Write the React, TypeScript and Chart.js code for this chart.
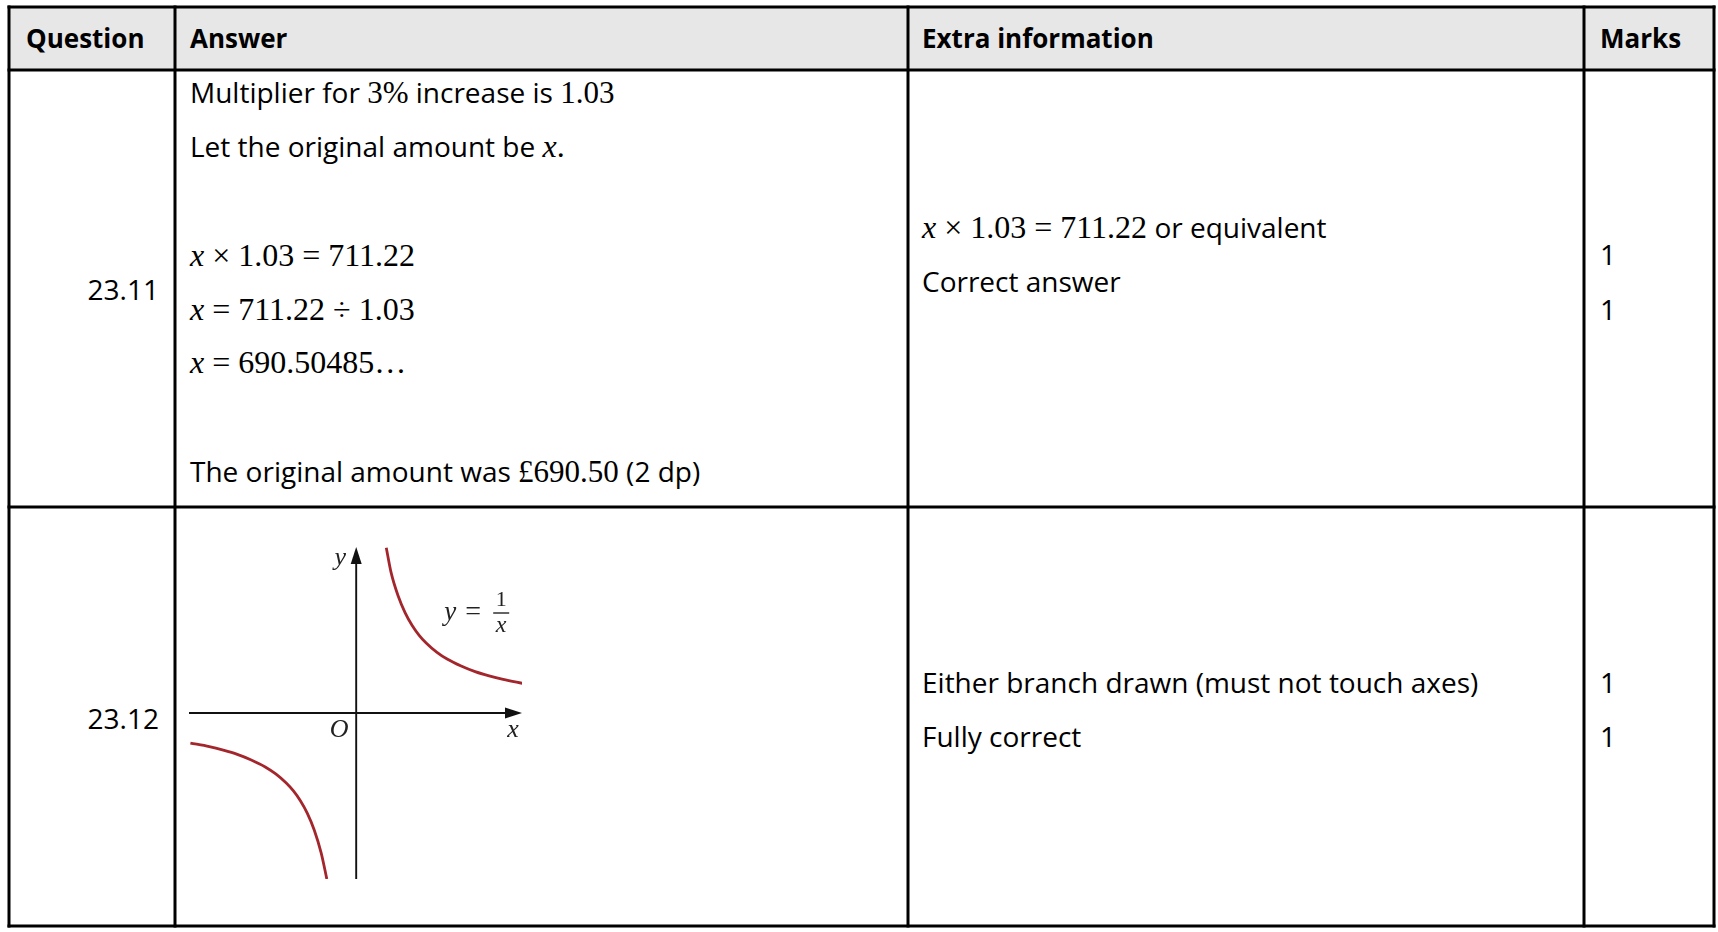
import React, { useEffect, useRef } from "react";
import { Chart, registerables } from "chart.js";

Chart.register(...registerables);

// Curve y = 1/x
const upperX = [0.43, 0.5, 0.6, 0.7, 0.8, 0.9, 1.0, 1.15, 1.3, 1.5, 1.7, 1.9, 2.1, 2.39];
const upperY = [2.36, 2.0, 1.67, 1.43, 1.25, 1.11, 1.0, 0.87, 0.77, 0.67, 0.59, 0.53, 0.48, 0.42];
const lowerX = [-2.37, -2.1, -1.9, -1.7, -1.5, -1.3, -1.15, -1.0, -0.9, -0.8, -0.7, -0.6, -0.5, -0.42];
const lowerY = [-0.43, -0.48, -0.53, -0.59, -0.67, -0.77, -0.87, -1.0, -1.11, -1.25, -1.43, -1.67, -2.0, -2.37];
const xLimits = [-2.39, 2.37];
const yLimits = [-2.37, 2.37];

const headers = ["Question", "Answer", "Extra information", "Marks"];
const questions = ["23.11", "23.12"];
const marks = ["1", "1", "1", "1"];

const SANS = "'Open Sans', Lato, sans-serif";
const SERIF = "'Liberation Serif', 'DejaVu Serif', serif";
const CURVE = "#a3262c";

function Graph() {
  const ref = useRef<HTMLCanvasElement | null>(null);
  useEffect(() => {
    if (!ref.current) return;
    const axesPlugin = {
      id: "axesPlugin",
      beforeDatasetsDraw(chart: any) {
        const { ctx, scales } = chart;
        const xs = scales.x, ys = scales.y;
        const x0 = xs.getPixelForValue(0);
        const y0 = ys.getPixelForValue(0);
        const left = xs.getPixelForValue(xs.min);
        const right = xs.getPixelForValue(xs.max);
        const top = ys.getPixelForValue(ys.max);
        const bottom = ys.getPixelForValue(ys.min);
        ctx.save();
        ctx.strokeStyle = "#111";
        ctx.fillStyle = "#111";
        ctx.lineWidth = 1.9;
        ctx.beginPath();
        ctx.moveTo(left, y0);
        ctx.lineTo(right - 10, y0);
        ctx.moveTo(x0, bottom);
        ctx.lineTo(x0, top + 10);
        ctx.stroke();
        ctx.beginPath();
        ctx.moveTo(right, y0);
        ctx.lineTo(right - 17, y0 - 5.5);
        ctx.lineTo(right - 17, y0 + 5.5);
        ctx.closePath();
        ctx.fill();
        ctx.beginPath();
        ctx.moveTo(x0, top);
        ctx.lineTo(x0 - 5.5, top + 17);
        ctx.lineTo(x0 + 5.5, top + 17);
        ctx.closePath();
        ctx.fill();

        ctx.fillStyle = "#222";
        ctx.textAlign = "center";
        ctx.textBaseline = "middle";
        ctx.font = `italic 26px ${SERIF}`;
        ctx.fillText("y", x0 - 16, top + 11);
        ctx.fillText("O", x0 - 17, y0 + 17);
        ctx.fillText("x", right - 9, y0 + 17);
        // equation label y = 1/x
        ctx.font = `italic 27px ${SERIF}`;
        ctx.fillText("y", x0 + 94, y0 - 100);
        ctx.font = `28px ${SERIF}`;
        ctx.fillText("=", x0 + 117, y0 - 100);
        ctx.font = `22px ${SERIF}`;
        ctx.fillText("1", x0 + 145, y0 - 113);
        ctx.font = `italic 24px ${SERIF}`;
        ctx.fillText("x", x0 + 145, y0 - 87);
        ctx.lineWidth = 1.4;
        ctx.strokeStyle = "#222";
        ctx.beginPath();
        ctx.moveTo(x0 + 137, y0 - 100);
        ctx.lineTo(x0 + 153, y0 - 100);
        ctx.stroke();
        ctx.restore();
      },
    };
    const chart = new Chart(ref.current, {
      type: "scatter",
      data: {
        datasets: [
          {
            data: upperX.map((x, i) => ({ x, y: upperY[i] })),
            showLine: true,
            borderColor: CURVE,
            borderWidth: 2.8,
            pointRadius: 0,
            cubicInterpolationMode: "monotone",
          },
          {
            data: lowerX.map((x, i) => ({ x, y: lowerY[i] })),
            showLine: true,
            borderColor: CURVE,
            borderWidth: 2.8,
            pointRadius: 0,
            cubicInterpolationMode: "monotone",
          },
        ],
      },
      options: {
        animation: false,
        responsive: false,
        events: [],
        layout: { padding: 10 },
        plugins: { legend: { display: false }, tooltip: { enabled: false } },
        scales: {
          x: { type: "linear", min: xLimits[0], max: xLimits[1], display: false },
          y: { type: "linear", min: yLimits[0], max: yLimits[1], display: false },
        },
      },
      plugins: [axesPlugin],
    } as any);
    return () => chart.destroy();
  }, []);
  return (
    <canvas
      ref={ref}
      width={353}
      height={352}
      style={{ position: "absolute", left: 179, top: 537, width: 353, height: 352 }}
    />
  );
}

const M = ({ children }: { children: React.ReactNode }) => (
  <tspan fontFamily={SERIF} fontSize={32}>{children}</tspan>
);
const I = ({ children }: { children: React.ReactNode }) => (
  <tspan fontFamily={SERIF} fontSize={32} fontStyle="italic">{children}</tspan>
);
const MI = ({ children }: { children: React.ReactNode }) => (
  <tspan fontFamily={SERIF} fontSize={31}>{children}</tspan>
);

export default function App() {
  const vLines = [9, 175, 908, 1584, 1714];
  const hLines = [7, 70, 507, 926];
  const ts = { fontFamily: SANS, fontSize: 28, fill: "#000" } as any;
  return (
    <div style={{ position: "absolute", left: 0, top: 0, width: 1718, height: 932, background: "#fff" }}>
      <svg width={1718} height={932} style={{ position: "absolute", left: 0, top: 0 }}>
        <rect x={9} y={7} width={1705} height={63} fill="#e7e7e7" />
        {hLines.map((y) => (
          <line key={"h" + y} x1={7.5} x2={1715.5} y1={y} y2={y} stroke="#000" strokeWidth={3} />
        ))}
        {vLines.map((x) => (
          <line key={"v" + x} x1={x} x2={x} y1={5.5} y2={927.5} stroke="#000" strokeWidth={3} />
        ))}
        <g fontFamily={SANS} fontSize={26} fill="#000" fontWeight="bold">
          <text x={26} y={48}>{headers[0]}</text>
          <text x={190} y={48}>{headers[1]}</text>
          <text x={922} y={48}>{headers[2]}</text>
          <text x={1600} y={48}>{headers[3]}</text>
        </g>
        <g {...ts}>
          <text x={159} y={300} textAnchor="end">{questions[0]}</text>
          <text x={159} y={729} textAnchor="end">{questions[1]}</text>

          <text x={190} y={103}>{"Multiplier for "}<MI>3%</MI>{" increase is "}<MI>1.03</MI></text>
          <text x={190} y={157}>{"Let the original amount be "}<I>x</I><M>.</M></text>
          <text x={190} y={266}><I>x</I><M>{" × 1.03 = 711.22"}</M></text>
          <text x={190} y={320}><I>x</I><M>{" = 711.22 ÷ 1.03"}</M></text>
          <text x={190} y={373}><I>x</I><M>{" = 690.50485…"}</M></text>
          <text x={190} y={482}>{"The original amount was "}<MI>£690.50</MI>{" (2 dp)"}</text>

          <text x={922} y={238}><I>x</I><M>{" × 1.03 = 711.22"}</M>{" or equivalent"}</text>
          <text x={922} y={292}>Correct answer</text>
          <text x={922} y={693}>Either branch drawn (must not touch axes)</text>
          <text x={922} y={747}>Fully correct</text>

          <text x={1600} y={265}>{marks[0]}</text>
          <text x={1600} y={320}>{marks[1]}</text>
          <text x={1600} y={693}>{marks[2]}</text>
          <text x={1600} y={747}>{marks[3]}</text>
        </g>
      </svg>
      <Graph />
    </div>
  );
}
